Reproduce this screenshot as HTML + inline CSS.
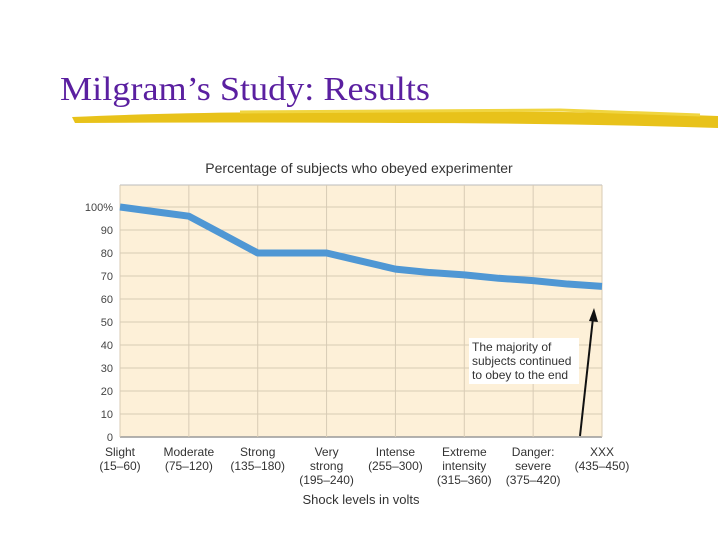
<!DOCTYPE html>
<html><head><meta charset="utf-8"><style>
body{margin:0;background:#fff;}
svg{display:block;font-family:"Liberation Sans",sans-serif;}
</style></head><body>
<svg width="720" height="540" viewBox="0 0 720 540">
<text x="60" y="100" font-family="Liberation Serif,serif" font-size="34" textLength="370" lengthAdjust="spacingAndGlyphs" fill="#5a1fa0">Milgram’s Study: Results</text>
<g>
<path d="M72 117 Q200 111 400 112 Q560 110 718 116 L718 128 Q560 123 400 123 Q220 122 75 123 Z" fill="#e8c21a"/>
<path d="M240 112 L560 110 L700 115" stroke="#f0d540" stroke-width="3" fill="none"/>
</g>
<text x="359" y="173" text-anchor="middle" font-size="14" fill="#333">Percentage of subjects who obeyed experimenter</text>
<rect x="120" y="185" width="482" height="252" fill="#fdf0d8"/>
<g id="grid"></g>
<g id="yticks"></g>
<g id="xticks"></g>
<path id="series" fill="none" stroke="#4f97d4" stroke-width="7" stroke-linejoin="round"/>
<rect x="469" y="338" width="110" height="46" fill="#fff"/>
<text font-size="12" fill="#333"><tspan x="472" y="351">The majority of</tspan><tspan x="472" y="365">subjects continued</tspan><tspan x="472" y="379">to obey to the end</tspan></text>
<g>
<line x1="580" y1="436" x2="593" y2="318" stroke="#111" stroke-width="2"/>
<polygon points="594,308 589,321 598,322" fill="#111"/>
</g>
<text x="361" y="504" text-anchor="middle" font-size="13" fill="#333">Shock levels in volts</text>
</svg>
<script>
const categories=[["Slight","(15–60)"],["Moderate","(75–120)"],["Strong","(135–180)"],["Very","strong","(195–240)"],["Intense","(255–300)"],["Extreme","intensity","(315–360)"],["Danger:","severe","(375–420)"],["XXX","(435–450)"]];
const yTicks=[0,10,20,30,40,50,60,70,80,90,100];
const pointPos=[0,0.5,1,1.5,2,2.5,3,3.5,4,4.5,5,5.5,6,6.5,7];
const values=[100,98,96,88,80,80,80,76.5,73,71.5,70.5,69,68,66.5,65.5];
const NS="http://www.w3.org/2000/svg";
const x0=120,x1=602,y0=437,y100=207;
const xs=i=>x0+i*(x1-x0)/(categories.length-1);
const ys=v=>y0-v*(y0-y100)/100;
function mk(t,a,p){const e=document.createElementNS(NS,t);for(const k in a)e.setAttribute(k,a[k]);p.appendChild(e);return e;}
const grid=document.getElementById('grid'),yt=document.getElementById('yticks'),xt=document.getElementById('xticks');
yTicks.forEach(v=>{
 const l=mk('line',{x1:x0,x2:x1,y1:ys(v),y2:ys(v),stroke:v===0?'#999':'#d8cbb5','stroke-width':v===0?1.5:1},grid);
 
 
 const t=mk('text',{x:113,y:ys(v)+4,'text-anchor':'end','font-size':11,fill:'#444'},yt);
 t.textContent=v===100?'100%':v;
 
 
});
mk('line',{x1:x0,x2:x1,y1:185,y2:185,stroke:'#bbb'},grid);
categories.forEach((c,i)=>{
 const l=mk('line',{x1:xs(i),x2:xs(i),y1:185,y2:y0,stroke:'#d8cbb5'},grid);
 
 
 const t=mk('text',{'text-anchor':'middle','font-size':12,fill:'#333'},xt);
 
 
 c.forEach((s,j)=>{const ts=mk('tspan',{x:xs(i),y:456+j*14},t);ts.textContent=s;});
});
document.getElementById('series').setAttribute('d',values.map((v,i)=>(i?'L':'M')+xs(pointPos[i])+' '+ys(v)).join(' '));
</script>
</body></html>
